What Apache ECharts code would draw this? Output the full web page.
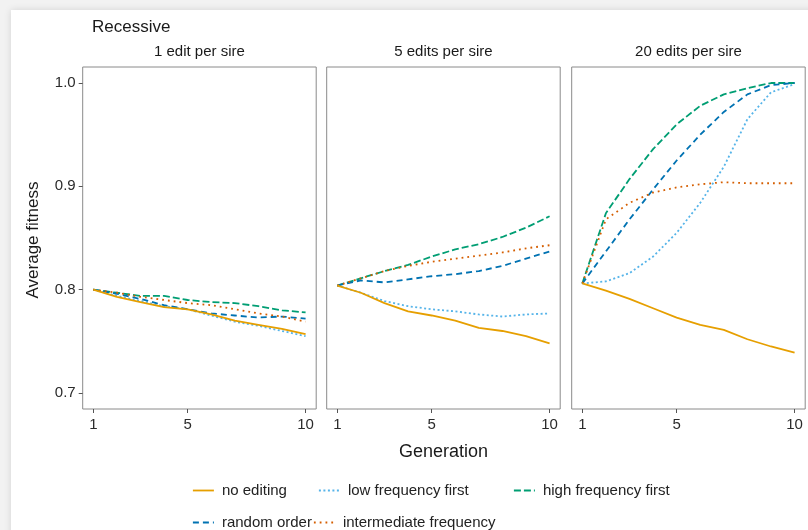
<!DOCTYPE html>
<html>
<head>
<meta charset="utf-8">
<script src="https://cdn.jsdelivr.net/npm/echarts@6/dist/echarts.min.js"></script>
<style>
  html, body { margin: 0; padding: 0; background: #f2f2f2; }
  #card { position: absolute; left: 11px; top: 10px; width: 830px; height: 560px;
          background: #fff; box-shadow: 0 0 7px rgba(0,0,0,0.13); }
  #chart { position: absolute; left: 0; top: 0; width: 808px; height: 530px; }
</style>
</head>
<body>
<div id="card"></div>
<div id="chart"></div>
<script>
// Generations simulated
const generations = [1, 2, 3, 4, 5, 6, 7, 8, 9, 10];
const xTicks = [1, 5, 10];
const yTicks = [0.7, 0.8, 0.9, 1.0];
const panelTitles = ['1 edit per sire', '5 edits per sire', '20 edits per sire'];
const strategies = ['no editing', 'low frequency first', 'high frequency first', 'random order', 'intermediate frequency'];

// 1 edit per sire
const noEditing1   = [0.800, 0.793, 0.788, 0.783, 0.781, 0.776, 0.770, 0.766, 0.762, 0.757];
const lowFreq1     = [0.800, 0.794, 0.789, 0.784, 0.781, 0.775, 0.769, 0.765, 0.760, 0.755];
const highFreq1    = [0.800, 0.797, 0.794, 0.794, 0.790, 0.788, 0.787, 0.784, 0.780, 0.778];
const randomOrder1 = [0.800, 0.796, 0.791, 0.785, 0.781, 0.777, 0.775, 0.773, 0.774, 0.772];
const interFreq1   = [0.800, 0.797, 0.793, 0.790, 0.787, 0.785, 0.781, 0.777, 0.774, 0.769];

// 5 edits per sire
const noEditing5   = [0.804, 0.797, 0.787, 0.779, 0.775, 0.770, 0.763, 0.760, 0.755, 0.748];
const lowFreq5     = [0.804, 0.797, 0.789, 0.784, 0.781, 0.779, 0.776, 0.774, 0.776, 0.777];
const highFreq5    = [0.804, 0.811, 0.818, 0.824, 0.832, 0.839, 0.844, 0.851, 0.860, 0.871];
const randomOrder5 = [0.804, 0.809, 0.807, 0.810, 0.813, 0.815, 0.818, 0.823, 0.830, 0.837];
const interFreq5   = [0.804, 0.811, 0.818, 0.823, 0.827, 0.830, 0.833, 0.836, 0.840, 0.843];

// 20 edits per sire
const noEditing20   = [0.806, 0.799, 0.791, 0.782, 0.773, 0.766, 0.761, 0.752, 0.745, 0.739];
const lowFreq20     = [0.806, 0.808, 0.816, 0.832, 0.855, 0.884, 0.919, 0.965, 0.991, 0.999];
const highFreq20    = [0.806, 0.874, 0.907, 0.936, 0.960, 0.978, 0.989, 0.995, 1.000, 1.000];
const randomOrder20 = [0.806, 0.837, 0.868, 0.897, 0.925, 0.950, 0.972, 0.989, 0.998, 1.000];
const interFreq20   = [0.806, 0.868, 0.884, 0.894, 0.899, 0.902, 0.904, 0.903, 0.903, 0.903];

const panelData = [
  [noEditing1, lowFreq1, highFreq1, randomOrder1, interFreq1],
  [noEditing5, lowFreq5, highFreq5, randomOrder5, interFreq5],
  [noEditing20, lowFreq20, highFreq20, randomOrder20, interFreq20]
];

const colors = ['#E69F00', '#56B4E9', '#009E73', '#0072B2', '#D55E00'];
const dashes = ['solid', [2, 2.5], [7, 3], [6, 4], [1.8, 4]];

const FONT = 'Liberation Sans, Arial, Helvetica, sans-serif';
const panelLeft = [82.7, 326.7, 571.7];
const panelWidth = 233.5;
const panelTop = 67;
const panelHeight = 342;

const chart = echarts.init(document.getElementById('chart'), null, { renderer: 'canvas' });

const grids = panelLeft.map(l => ({
  left: l, top: panelTop, width: panelWidth, height: panelHeight,
  show: true, borderColor: '#8a8a8a', borderWidth: 1, backgroundColor: '#fff',
  containLabel: false
}));

const xAxes = panelLeft.map((_, i) => ({
  gridIndex: i, type: 'value', min: 0.55, max: 10.45,
  axisLine: { show: false },
  splitLine: { show: false },
  axisTick: { show: true, length: 4, customValues: xTicks, lineStyle: { color: '#555' } },
  axisLabel: { show: true, customValues: xTicks, margin: 8, color: '#2b2b2b',
               fontSize: 15, fontFamily: FONT }
}));

const yAxes = panelLeft.map((_, i) => ({
  gridIndex: i, type: 'value', min: 0.6845, max: 1.0155,
  axisLine: { show: false },
  splitLine: { show: false },
  axisTick: { show: i === 0, length: 4, customValues: yTicks, lineStyle: { color: '#555' } },
  axisLabel: { show: i === 0, customValues: yTicks, margin: 7, color: '#2b2b2b',
               fontSize: 15, fontFamily: FONT, formatter: v => v.toFixed(1) }
}));

const series = [];
panelData.forEach((sets, p) => {
  sets.forEach((vals, k) => {
    series.push({
      type: 'line', name: strategies[k], xAxisIndex: p, yAxisIndex: p,
      data: generations.map((g, j) => [g, vals[j]]),
      showSymbol: false, symbol: 'none', smooth: false, animation: false,
      lineStyle: { color: colors[k], width: 1.8, type: dashes[k] },
      itemStyle: { color: colors[k] },
      z: 2 + (k === 0 ? 1 : 0)
    });
  });
});

// one legend entry per box so the two rows flow like the printed key
const legendPos = [
  { left: 192, top: 483 }, { left: 318, top: 483 }, { left: 513, top: 483 },
  { left: 192, top: 515 }, { left: 313, top: 515 }
];
const legends = strategies.map((s, k) => ({
  data: [s], left: legendPos[k].left, top: legendPos[k].top, padding: 0,
  itemWidth: 21, itemHeight: 14, selectedMode: false,
  itemStyle: { opacity: 0 },
  lineStyle: { width: 1.8 },
  textStyle: { fontSize: 15, fontFamily: FONT, color: '#222', padding: [0, 0, 0, 3] }
}));

const textEl = (text, x, y, size, opts = {}) => Object.assign({
  type: 'text', x, y,
  style: { text, fontSize: size, fontFamily: FONT, fill: opts.fill || '#1a1a1a',
           textAlign: opts.align || 'center', textVerticalAlign: 'middle' }
}, opts.extra || {});

const graphics = [
  textEl('Recessive', 92, 27, 17, { align: 'left' }),
  textEl(panelTitles[0], panelLeft[0] + panelWidth / 2, 52, 15),
  textEl(panelTitles[1], panelLeft[1] + panelWidth / 2, 52, 15),
  textEl(panelTitles[2], panelLeft[2] + panelWidth / 2, 52, 15),
  textEl('Generation', panelLeft[1] + panelWidth / 2, 452, 18),
  textEl('Average fitness', 33, 240, 17, { extra: { rotation: Math.PI / 2 } })
];

chart.setOption({
  animation: false,
  backgroundColor: 'transparent',
  grid: grids,
  xAxis: xAxes,
  yAxis: yAxes,
  legend: legends,
  series,
  graphic: graphics
});
</script>
</body>
</html>
